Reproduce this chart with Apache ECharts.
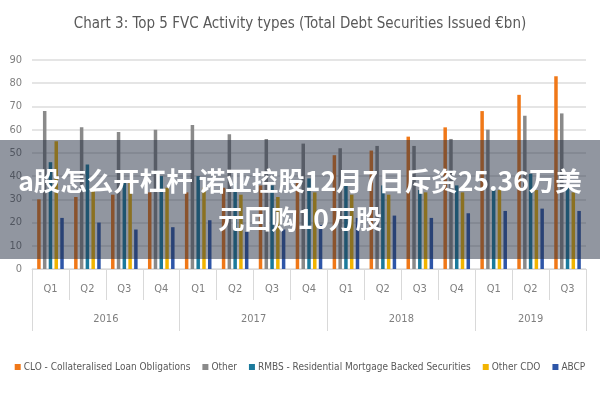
<!DOCTYPE html>
<html>
<head>
<meta charset="utf-8">
<script src="https://cdn.jsdelivr.net/npm/echarts@6/dist/echarts.min.js"></script>
<style>html,body{margin:0;padding:0;background:#fff}#c{width:600px;height:400px}</style>
</head>
<body>
<div id="c"></div>
<script>
var quarters = ['Q1','Q2','Q3','Q4','Q1','Q2','Q3','Q4','Q1','Q2','Q3','Q4','Q1','Q2','Q3'];
var years = ['2016','2017','2018','2019'];
var yearCenters = [2, 6, 10, 13.5];
var yearBounds = [0, 4, 8, 12, 15];
var yTicks = [0,10,20,30,40,50,60,70,80,90];

var clo      = [30, 31, 32, 33, 33, 35, 36, 37, 49, 51, 57, 61, 68, 75, 83];
var other    = [68, 61, 59, 60, 62, 58, 56, 54, 52, 53, 53, 56, 60, 66, 67];
var rmbs     = [46, 45, 38, 40, 40, 37, 36, 39, 37, 36, 34, 36, 35, 41, 36];
var otherCdo = [55, 35, 37, 35, 35, 32, 31, 33, 32, 32, 33, 33, 34, 34, 33];
var abcp     = [22, 20, 17, 18, 21, 16, 17, 19, 22, 23, 22, 24, 25, 26, 25];

var seriesNames = ['CLO - Collateralised Loan Obligations','Other','RMBS - Residential Mortgage Backed Securities','Other CDO','ABCP'];
var seriesData = [clo, other, rmbs, otherCdo, abcp];
var colors = ['#F07818','#8A8A8A','#1B7A9C','#F2B400','#2E56A8'];

var narrow = "'Liberation Sans Narrow', 'DejaVu Sans Condensed', Lato, sans-serif";

var chart = echarts.init(document.getElementById('c'), null, {renderer:'canvas'});
var series = seriesNames.map(function(n,i){
  return {
    name: n, type: 'bar', data: seriesData[i],
    barWidth: 3.5, barGap: '65%',
    itemStyle: {color: colors[i]}
  };
});
chart.setOption({
  animation: false,
  color: colors,
  title: {
    text: 'Chart 3: Top 5 FVC Activity types (Total Debt Securities Issued €bn)',
    left: 'center', top: 12,
    textStyle: {fontFamily: narrow, fontSize: 15, fontWeight: 'normal', color: '#595959'}
  },
  legend: {
    bottom: 28, left: 'center', width: 600, padding: 0,
    itemWidth: 6, itemHeight: 6, itemGap: 12,
    icon: 'rect',
    textStyle: {fontFamily: narrow, fontSize: 10, color: '#595959', padding: [0,0,0,-2]},
    data: seriesNames
  },
  grid: {left: 32, right: 14, top: 60, bottom: 131, containLabel: false},
  xAxis: [{
    type: 'category', data: quarters,
    axisLine: {show: true, lineStyle: {color: '#d9d9d9'}},
    axisTick: {show: true, length: 31, lineStyle: {color: '#d9d9d9'}},
    axisLabel: {margin: 15, fontFamily: narrow, fontSize: 11, color: '#7f7f7f'}
  }, {
    type: 'value', min: 0, max: 15, position: 'bottom',
    axisLine: {show: false},
    splitLine: {show: false},
    axisTick: {show: true, length: 62, customValues: yearBounds, lineStyle: {color: '#d9d9d9'}},
    axisLabel: {
      margin: 45, fontFamily: narrow, fontSize: 11, color: '#7f7f7f',
      customValues: yearCenters,
      formatter: function(v){ var k = yearCenters.indexOf(v); return k >= 0 ? years[k] : ''; }
    }
  }],
  yAxis: {
    type: 'value', min: 0, max: 90, interval: 10,
    axisLine: {show: false}, axisTick: {show: false},
    axisLabel: {margin: 10, fontFamily: narrow, fontSize: 11, color: '#7f7f7f',
      formatter: function(v){ return yTicks.indexOf(v) >= 0 ? String(v) : ''; }},
    splitLine: {lineStyle: {color: '#dcdcdc', width: 1.5}}
  },
  series: series,
  graphic: [{
    type: 'rect', z: 100, silent: true,
    shape: {x: 0, y: 140, width: 600, height: 119},
    style: {fill: 'rgba(35,45,65,0.5)'}
  }, {
    type: 'text', z: 101, silent: true,
    x: 300, y: 200,
    style: {
      text: 'a股怎么开杠杆 诺亚控股12月7日斥资25.36万美\n元回购10万股',
      fill: '#ffffff',
      font: "bold 26.5px 'Noto Sans CJK SC', sans-serif",
      align: 'center', verticalAlign: 'middle',
      lineHeight: 38
    }
  }]
});
</script>
</body>
</html>
